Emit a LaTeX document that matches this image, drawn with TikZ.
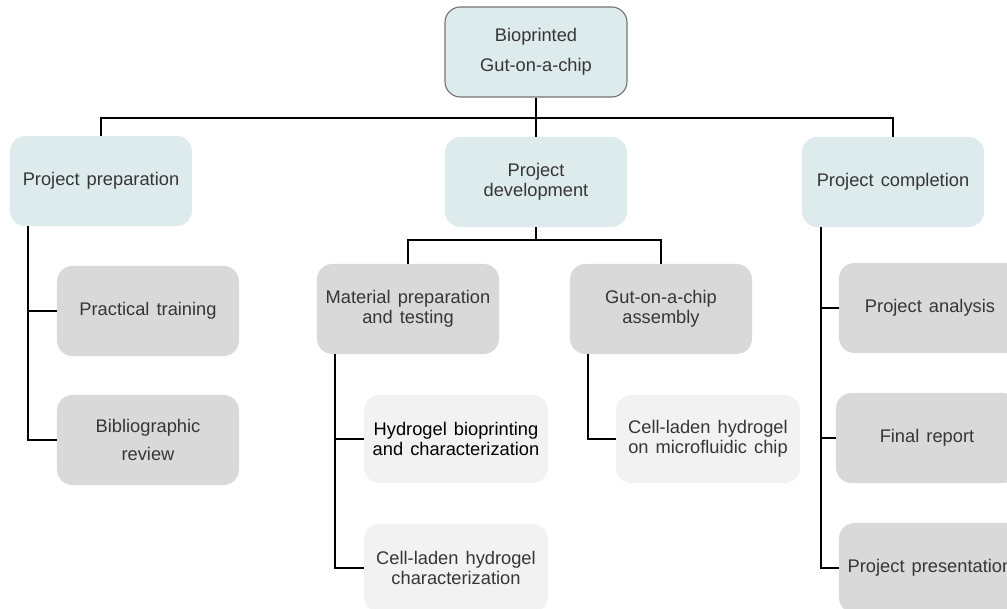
\documentclass[tikz,border=0pt]{standalone}
\usepackage{fontspec}
\setmainfont{Liberation Sans}[WordSpace=1.4]
\definecolor{phaseblue}{HTML}{DEEBEC}
\definecolor{taskgray}{HTML}{D9D9D9}
\definecolor{subgray}{HTML}{F2F2F2}
\definecolor{txtgray}{HTML}{363636}
\begin{document}
\begin{tikzpicture}[x=0.025cm,y=-0.025cm,
    box/.style={rounded corners=11pt,minimum width=4.55cm,minimum height=2.25cm,
        align=center,text=txtgray,font=\fontsize{13}{14.5}\selectfont},
    rootbox/.style={box,fill=phaseblue,draw=black!55,line width=0.8pt},
    phase/.style={box,fill=phaseblue},
    task/.style={box,fill=taskgray},
    subtask/.style={box,fill=subgray,minimum width=4.6cm,minimum height=2.2cm},
    conn/.style={line width=1.8pt,black}]
    \clip (0,0) rectangle (1007,609);
    \useasboundingbox (0,0) rectangle (1007,609);

    % top and phases
    \node[rootbox] (root) at (536,52) {Bioprinted\\[7pt]Gut-on-a-chip};
    \node[phase] (prep) at (101,181) {Project preparation};
    \node[phase] (dev) at (536,182) {Project\\development};
    \node[phase] (compl) at (893,182) {Project completion};

    % tasks
    \node[task] (train) at (148,311) {Practical training};
    \node[task] (review) at (148,440) {Bibliographic\\[5pt]review};
    \node[task] (mat) at (408,309) {Material preparation\\and testing};
    \node[task] (chip) at (661,309) {Gut-on-a-chip\\assembly};
    \node[task] (analysis) at (930,308) {Project analysis};
    \node[task] (report) at (927,438) {Final report};
    \node[task] (present) at (930,568) {Project presentation};

    % sub tasks
    \node[subtask,text=black] (hydro) at (456,439) {Hydrogel bioprinting\\and characterization};
    \node[subtask] (cellchar) at (456,568) {Cell-laden hydrogel\\characterization};
    \node[subtask] (onchip) at (708,439) {Cell-laden hydrogel\\on microfluidic chip};

    % connectors
    \coordinate (bus) at (536,118);
    \coordinate (devbus) at (536,240);
    \draw[conn] (root) -- (bus);
    \draw[conn] (prep.north) |- (bus) -| (compl.north);
    \draw[conn] (bus) -- (dev.north);
    \draw[conn] (dev) -- (devbus);
    \draw[conn] (mat.north) |- (devbus) -| (chip.north);

    \draw[conn] (prep.south -| 28,0) |- (train.west);
    \draw[conn] (prep.south -| 28,0) |- (review.west);
    \draw[conn] (mat.south -| 335,0) |- (hydro.west);
    \draw[conn] (mat.south -| 335,0) |- (cellchar.west);
    \draw[conn] (chip.south -| 588,0) |- (onchip.west);
    \draw[conn] (compl.south -| 821,0) |- (analysis.west);
    \draw[conn] (compl.south -| 821,0) |- (report.west);
    \draw[conn] (compl.south -| 821,0) |- (present.west);
\end{tikzpicture}
\end{document}
